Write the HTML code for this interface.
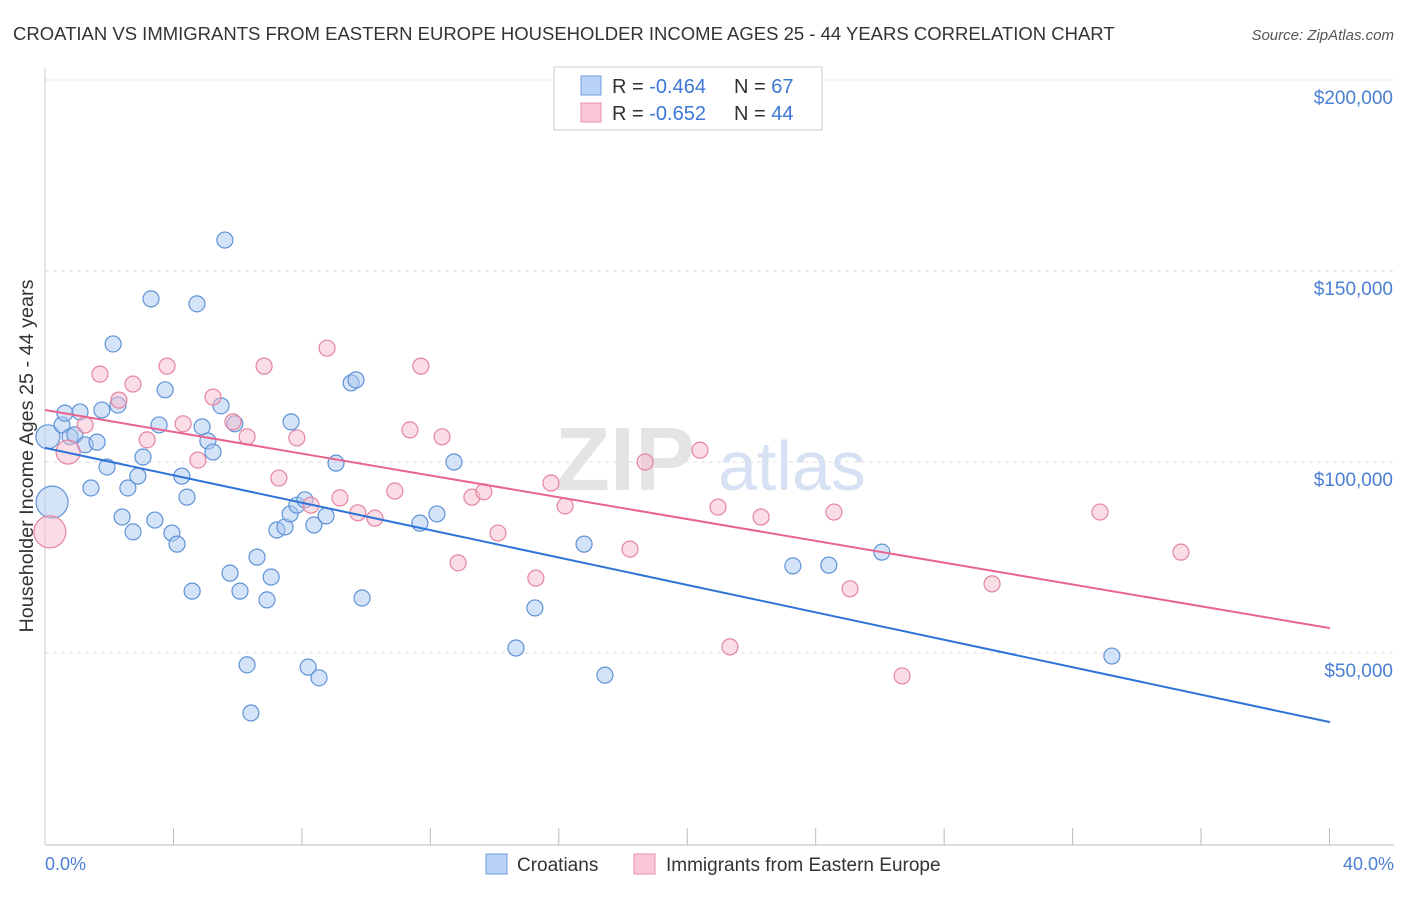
<!DOCTYPE html>
<html><head><meta charset="utf-8"><style>
body{margin:0;background:#fff;font-family:"Liberation Sans",sans-serif;}
svg text{font-family:"Liberation Sans",sans-serif;}
</style></head><body>
<svg id="chart" width="1406" height="892">
<text x="13" y="40" font-size="18.5" fill="#333">CROATIAN VS IMMIGRANTS FROM EASTERN EUROPE HOUSEHOLDER INCOME AGES 25 - 44 YEARS CORRELATION CHART</text>
<text x="1394" y="40" font-size="15" fill="#555" font-style="italic" text-anchor="end">Source: ZipAtlas.com</text>
<g id="grid"></g>
<text x="555" y="490" font-size="90" fill="#e4e4e4" font-family="Liberation Serif" font-weight="bold">ZIP</text>
<text x="718" y="490" font-size="70" fill="#d6e2f3">atlas</text>
<g id="marks"></g>
<text x="33" y="456" font-size="19.8" fill="#333" text-anchor="middle" transform="rotate(-90 33 456)">Householder Income Ages 25 - 44 years</text>
<text x="45" y="870" font-size="18" fill="#4a7fd4">0.0%</text>
<text x="1394" y="870" font-size="18" fill="#4a7fd4" text-anchor="end">40.0%</text>
<g>
<rect x="554" y="67" width="268" height="63" fill="#fff" stroke="#ccc"/>
<rect x="581" y="76" width="20" height="19" fill="#b8d3f5" stroke="#6f9fdc"/>
<rect x="581" y="103" width="20" height="19" fill="#f9c7d6" stroke="#e891ae"/>
<text x="612" y="93" font-size="20" fill="#333">R = <tspan fill="#3b78d8">-0.464</tspan></text>
<text x="734" y="93" font-size="20" fill="#333">N = <tspan fill="#3b78d8">67</tspan></text>
<text x="612" y="120" font-size="20" fill="#333">R = <tspan fill="#3b78d8">-0.652</tspan></text>
<text x="734" y="120" font-size="20" fill="#333">N = <tspan fill="#3b78d8">44</tspan></text>
</g>
<g>
<rect x="486" y="854" width="21" height="20" fill="#b8d3f5" stroke="#6f9fdc"/>
<text x="517" y="871" font-size="19" fill="#333">Croatians</text>
<rect x="634" y="854" width="21" height="20" fill="#f9c7d6" stroke="#e891ae"/>
<text x="666" y="871" font-size="19" fill="#333">Immigrants from Eastern Europe</text>
</g>
</svg>
<script>
const yTicks=[50000,100000,150000,200000];
const yTickLabels=["$50,000","$100,000","$150,000","$200,000"];
const blueX=[0.22,0.09,0.53,0.62,0.78,0.93,1.09,1.25,1.62,1.77,1.43,1.93,2.12,2.27,2.40,2.58,2.74,2.89,3.05,3.30,3.42,3.55,3.74,3.95,4.11,4.26,4.42,4.58,4.73,4.89,5.07,5.23,5.48,5.60,5.76,5.91,6.07,6.29,6.41,6.60,6.91,7.04,7.22,7.47,7.63,7.66,7.84,8.09,8.19,8.37,8.53,8.75,9.06,9.53,9.68,9.87,11.67,12.20,12.73,14.66,15.25,16.78,17.43,23.28,24.40,26.05,33.21];
const blueY=[89.5,106.6,109.7,112.8,106.6,107.1,113.1,104.5,105.2,113.6,93.2,98.7,130.9,114.9,85.6,93.2,81.7,96.3,101.3,142.7,84.8,109.7,118.9,81.4,78.5,96.3,90.8,66.2,141.4,109.2,105.5,102.6,114.7,158.1,70.9,110.0,66.2,46.9,34.3,75.1,63.9,69.9,82.2,83.0,86.4,110.5,88.7,90.1,46.3,83.5,43.5,85.9,99.7,120.7,121.5,64.4,84.0,86.4,100.0,51.3,61.8,78.5,44.2,72.8,73.0,76.4,49.2];
const pinkX=[0.15,0.72,1.25,1.71,2.30,2.74,3.18,3.80,4.30,4.76,5.23,5.85,6.29,6.82,7.28,7.84,8.28,8.78,9.18,9.74,10.27,10.89,11.36,11.70,12.36,12.86,13.29,13.66,14.10,15.28,15.75,16.19,18.21,18.68,20.39,20.95,21.32,22.29,24.56,25.06,26.68,29.48,32.84,35.36];
const pinkY=[81.7,102.6,109.7,123.0,116.2,120.4,105.8,125.1,110.0,100.5,117.0,110.5,106.6,125.1,95.8,106.3,88.7,129.8,90.6,86.7,85.3,92.4,108.4,125.1,106.6,73.6,90.8,92.2,81.4,69.6,94.5,88.5,77.2,100.0,103.1,88.2,51.6,85.6,86.9,66.8,44.0,68.1,86.9,76.4];
const blueTrend=[103.7,31.9];
const pinkTrend=[113.6,56.5];
const NS="http://www.w3.org/2000/svg";
const xs=p=>45+p/40*1285;
const ys=v=>844-v/50000*191;
function mk(t,a,parent){const e=document.createElementNS(NS,t);for(const k in a)e.setAttribute(k,a[k]);parent.appendChild(e);return e;}
const grid=document.getElementById('grid'),marks=document.getElementById('marks');
yTicks.forEach((t,i)=>{
 const g=mk('line',{x1:45,x2:1394,y1:ys(t),y2:ys(t),stroke:'#ddd','stroke-dasharray':'4,4'},grid);
 
 
 const l=mk('text',{x:1393,y:ys(t)+24,'font-size':19,fill:'#4a7fd4','text-anchor':'end'},grid);
 l.textContent=yTickLabels[i];
 
 
});
const ax=mk('line',{x1:45,x2:1394,y1:845,y2:845,stroke:'#bbb'},grid);


const ay=mk('line',{x1:45,x2:45,y1:68,y2:845,stroke:'#ccc'},grid);


for(let i=1;i<=10;i++){const t=mk('line',{x1:xs(i*4)-i*0.05,x2:xs(i*4)-i*0.05,y1:828,y2:845,stroke:'#bbb'},grid);
 
 }
function pts(X,Y,fill,stroke,name){X.forEach((x,i)=>{
 const r=i===0?16:(i===1?12:8);
 const c=mk('circle',{cx:xs(x),cy:ys(Y[i]*1000),r:r,fill:fill,'fill-opacity':0.5,stroke:stroke,'stroke-width':1.2},marks);
 
 
});}
pts(blueX,blueY,'#a9c8f0','#5f93d8','croatian-point');
pts(pinkX,pinkY,'#f7bccd','#e6849f','immigrant-point');
const bl=mk('line',{x1:xs(0),y1:ys(blueTrend[0]*1000),x2:xs(40),y2:ys(blueTrend[1]*1000),stroke:'#2f74d8','stroke-width':2},marks);


const pl=mk('line',{x1:xs(0),y1:ys(pinkTrend[0]*1000),x2:xs(40),y2:ys(pinkTrend[1]*1000),stroke:'#e8648f','stroke-width':2},marks);


</script>
</body></html>
